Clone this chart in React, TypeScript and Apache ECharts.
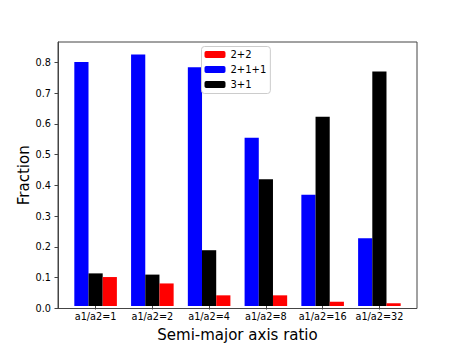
import React, { useEffect, useRef } from "react";
import * as echarts from "echarts";

const categories = ["a1/a2=1", "a1/a2=2", "a1/a2=4", "a1/a2=8", "a1/a2=16", "a1/a2=32"];
const seriesNames = ["2+2", "2+1+1", "3+1"];
const values2p2 = [0.095, 0.074, 0.035, 0.035, 0.014, 0.009];
const values2p1p1 = [0.8, 0.825, 0.783, 0.552, 0.365, 0.222];
const values3p1 = [0.107, 0.103, 0.183, 0.416, 0.621, 0.769];
const yTicks = [0, 0.1, 0.2, 0.3, 0.4, 0.5, 0.6, 0.7, 0.8];

const FONT = "DejaVu Sans";
const FRAME = "#444";

export default function App() {
  const ref = useRef<HTMLDivElement>(null);
  useEffect(() => {
    if (!ref.current) return;
    const chart = echarts.init(ref.current, null, { renderer: "svg" });
    const yMax = 0.866;
    const bandW = 359 / 6.325;
    const g1Left = 58 + (0.6625 - 0.5) * bandW;
    const g1Width = 6 * bandW;
    chart.setOption({
      animation: false,
      backgroundColor: "#fff",
      textStyle: { fontFamily: FONT },
      grid: [
        { left: 58, top: 42, width: 359, height: 266.5, show: true, borderColor: FRAME, borderWidth: 1, backgroundColor: "transparent" },
        { left: g1Left, top: 42, width: g1Width, height: 266.5 },
      ],
      legend: {
        data: seriesNames,
        orient: "vertical",
        left: 201.5,
        top: 46.5,
        itemWidth: 21,
        itemHeight: 7,
        itemGap: 3,
        itemTextGap: 8,
        padding: [2, 4, 3, 3],
        borderColor: "#ccc",
        borderWidth: 1,
        borderRadius: 3,
        backgroundColor: "rgba(255,255,255,0.8)",
        textStyle: { fontFamily: FONT, fontSize: 10, color: "#000", lineHeight: 12 },
      },
      xAxis: [
        { gridIndex: 0, type: "value", min: 0, max: 1, show: false },
        {
          gridIndex: 1,
          type: "category",
          data: categories,
          axisLine: { show: false },
          axisTick: { show: true, alignWithLabel: true, interval: 0, length: 3.5, lineStyle: { color: FRAME } },
          axisLabel: { fontFamily: FONT, fontSize: 9.7, color: "#000", margin: 5, interval: 0 },
          name: "Semi-major axis ratio",
          nameLocation: "middle",
          nameGap: 21,
          nameMoveOverlap: false,
          nameTextStyle: { fontFamily: FONT, fontSize: 15, color: "#000" },
        },
      ],
      yAxis: [
        {
          gridIndex: 0,
          type: "value",
          min: 0,
          max: yMax,
          splitLine: { show: false },
          axisLine: { show: true, lineStyle: { color: FRAME } },
          axisTick: { show: true, length: 3.5, customValues: yTicks, lineStyle: { color: FRAME } },
          axisLabel: {
            fontFamily: FONT,
            fontSize: 9.7,
            color: "#000",
            margin: 7,
            customValues: yTicks,
            formatter: (v: number) => v.toFixed(1),
          },
          name: "Fraction",
          nameLocation: "middle",
          nameRotate: 90,
          nameGap: 27,
          nameMoveOverlap: false,
          nameTextStyle: { fontFamily: FONT, fontSize: 15, color: "#000" },
        },
        { gridIndex: 1, type: "value", min: 0, max: yMax, show: false },
      ],
      series: [
        { name: "2+1+1", type: "bar", xAxisIndex: 1, yAxisIndex: 1, data: values2p1p1, barWidth: "25%", barGap: "0%", itemStyle: { color: "#0000ff" } },
        { name: "3+1", type: "bar", xAxisIndex: 1, yAxisIndex: 1, data: values3p1, barWidth: "25%", barGap: "0%", itemStyle: { color: "#000000" } },
        { name: "2+2", type: "bar", xAxisIndex: 1, yAxisIndex: 1, data: values2p2, barWidth: "25%", barGap: "0%", itemStyle: { color: "#ff0000" } },
      ],
    });
    return () => chart.dispose();
  }, []);
  return <div ref={ref} style={{ position: "fixed", left: 0, top: 0, width: 463, height: 347 }} />;
}
